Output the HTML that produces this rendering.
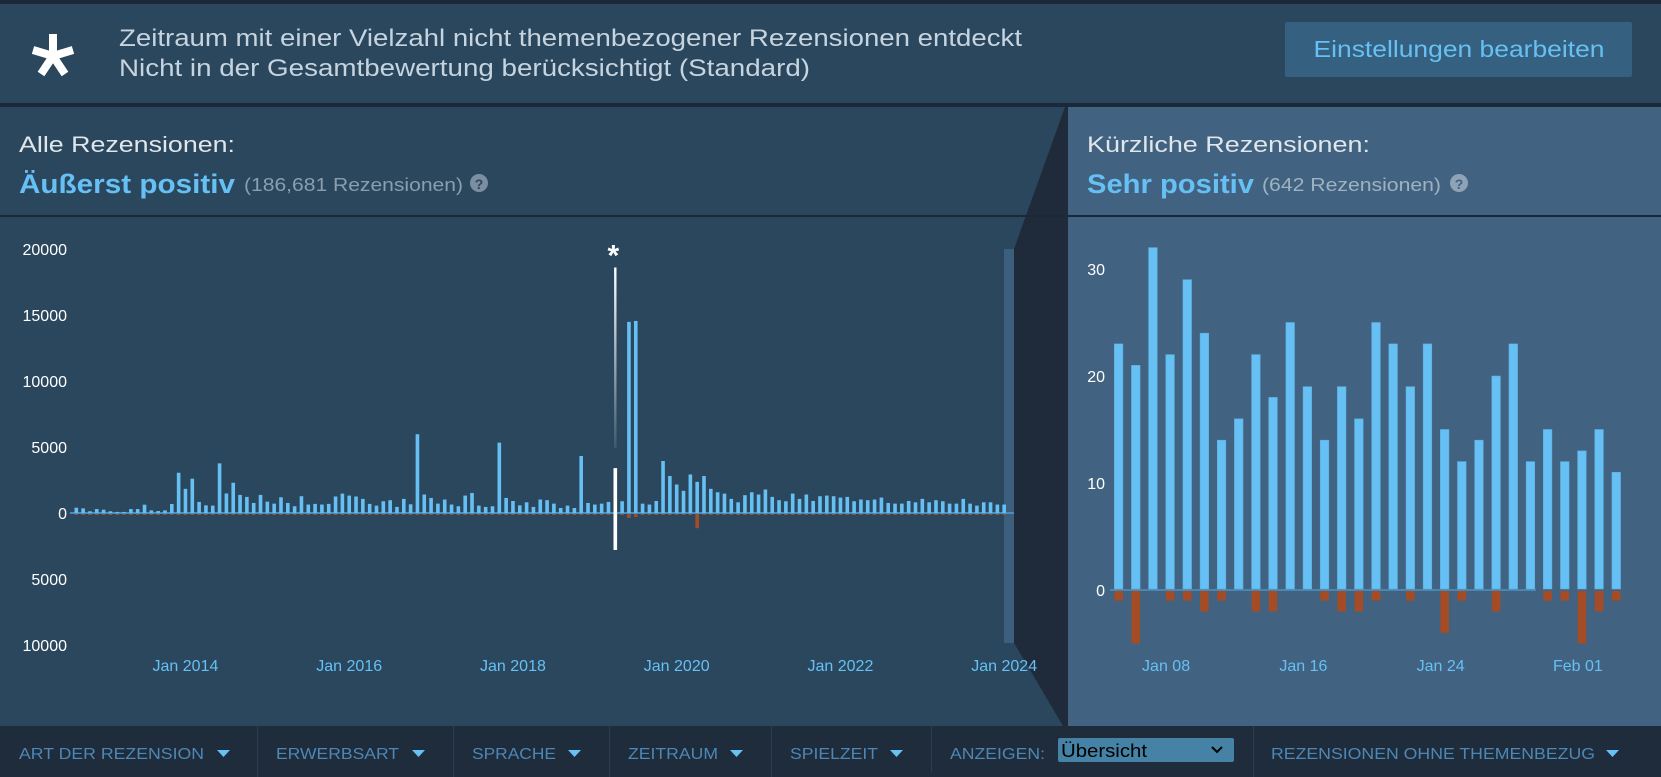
<!DOCTYPE html>
<html><head><meta charset="utf-8">
<style>
html,body{margin:0;padding:0;background:#1b2838;width:1661px;height:777px;overflow:hidden}
svg{display:block;font-family:"Liberation Sans",sans-serif}
</style></head>
<body>
<svg id="page" width="1661" height="777" viewBox="0 0 1661 777" xmlns="http://www.w3.org/2000/svg">
  <!-- header -->
  <rect x="0" y="0" width="1661" height="4" fill="#1b2838"/>
  <rect x="0" y="4" width="1661" height="99" fill="#2a475e"/>
  <g stroke="#ffffff" stroke-width="8" stroke-linecap="butt">
    <line x1="53" y1="56" x2="53" y2="34"/>
    <line x1="53" y1="56" x2="33" y2="50"/>
    <line x1="53" y1="56" x2="73" y2="50"/>
    <line x1="53" y1="56" x2="41" y2="74"/>
    <line x1="53" y1="56" x2="65" y2="74"/>
  </g>
  <text x="119" y="46" font-size="24" fill="#c6d4df" textLength="903" lengthAdjust="spacingAndGlyphs">Zeitraum mit einer Vielzahl nicht themenbezogener Rezensionen entdeckt</text>
  <text x="119" y="76" font-size="24" fill="#c6d4df" textLength="691" lengthAdjust="spacingAndGlyphs">Nicht in der Gesamtbewertung berücksichtigt (Standard)</text>
  <g>
    <rect x="1285" y="22" width="347" height="55" rx="2" fill="#35607f"/>
    <text x="1459" y="57" font-size="23" fill="#66c0f4" text-anchor="middle" textLength="291" lengthAdjust="spacingAndGlyphs">Einstellungen bearbeiten</text>
  </g>
  <rect x="0" y="103" width="1661" height="4" fill="#1b2838"/>

  <!-- panels -->
  <rect x="0" y="107" width="1068" height="619" fill="#2a475e"/>
  <rect x="1068" y="107" width="593" height="619" fill="#416280"/>
  <polygon points="1065,107 1068,107 1068,726 1063,726 1014,643 1014,249" fill="#1f2b3b"/>
  <rect x="0" y="215" width="1066" height="2" fill="#1b2838"/>
  <rect x="1068" y="215" width="593" height="2" fill="#1b2838"/>

  <text x="19" y="152" font-size="22" fill="#e0e6ea" textLength="216" lengthAdjust="spacingAndGlyphs">Alle Rezensionen:</text>
  <text x="19" y="193" font-size="27" font-weight="bold" fill="#66c0f4" textLength="216" lengthAdjust="spacingAndGlyphs">Äußerst positiv</text>
  <text x="244" y="191" font-size="18" fill="#8a9eae" textLength="219" lengthAdjust="spacingAndGlyphs">(186,681 Rezensionen)</text>
  <g><circle cx="479" cy="183" r="9" fill="#7b8fa0"/><text x="479" y="189" font-size="14" font-weight="bold" fill="#2a475e" text-anchor="middle">?</text></g>

  <text x="1087" y="152" font-size="22" fill="#e0e6ea" textLength="283" lengthAdjust="spacingAndGlyphs">Kürzliche Rezensionen:</text>
  <text x="1087" y="193" font-size="27" font-weight="bold" fill="#66c0f4" textLength="167" lengthAdjust="spacingAndGlyphs">Sehr positiv</text>
  <text x="1262" y="191" font-size="18" fill="#9fb2c2" textLength="179" lengthAdjust="spacingAndGlyphs">(642 Rezensionen)</text>
  <g><circle cx="1459" cy="183" r="9" fill="#8ea3b5"/><text x="1459" y="189" font-size="14" font-weight="bold" fill="#416280" text-anchor="middle">?</text></g>

  <rect x="1004" y="249" width="10" height="394" fill="#3b5f7d"/>

  <g id="leftChart"></g>
  <g id="rightChart"></g>

  <!-- filter bar -->
  <rect x="0" y="726" width="1661" height="51" fill="#1f2c3c"/>
  <g fill="#2a3d52">
    <rect x="257" y="726" width="1" height="51"/><rect x="453" y="726" width="1" height="51"/>
    <rect x="609" y="726" width="1" height="51"/><rect x="771" y="726" width="1" height="51"/>
    <rect x="931" y="726" width="1" height="46"/><rect x="1253" y="726" width="1" height="51"/>
  </g>
  <g font-size="16" fill="#4d87b5">
    <g><text x="19" y="759" textLength="185" lengthAdjust="spacingAndGlyphs">ART DER REZENSION</text><polygon points="217,750 230,750 223.5,757" fill="#67c1f5"/></g>
    <g><text x="276" y="759" textLength="123" lengthAdjust="spacingAndGlyphs">ERWERBSART</text><polygon points="412,750 425,750 418.5,757" fill="#67c1f5"/></g>
    <g><text x="472" y="759" textLength="84" lengthAdjust="spacingAndGlyphs">SPRACHE</text><polygon points="568,750 581,750 574.5,757" fill="#67c1f5"/></g>
    <g><text x="628" y="759" textLength="90" lengthAdjust="spacingAndGlyphs">ZEITRAUM</text><polygon points="730,750 743,750 736.5,757" fill="#67c1f5"/></g>
    <g><text x="790" y="759" textLength="88" lengthAdjust="spacingAndGlyphs">SPIELZEIT</text><polygon points="890,750 903,750 896.5,757" fill="#67c1f5"/></g>
    <text x="950" y="759" textLength="95" lengthAdjust="spacingAndGlyphs">ANZEIGEN:</text>
    <g><rect x="1058" y="738" width="176" height="24" rx="2" fill="#4582a5"/><text x="1061" y="757" font-size="18" fill="#000" textLength="86" lengthAdjust="spacingAndGlyphs">Übersicht</text><polyline points="1212,747 1217,752 1222,747" fill="none" stroke="#000" stroke-width="2"/></g>
    <g><text x="1271" y="759" textLength="324" lengthAdjust="spacingAndGlyphs">REZENSIONEN OHNE THEMENBEZUG</text><polygon points="1606,750 1619,750 1612.5,757" fill="#67c1f5"/></g>
  </g>
</svg>
<script>
// ---- all reviews (monthly) data ----
const monthStartYear = 2012, monthStartMonth = 9; // Sep 2012
const allPositive = [400,350,130,300,250,130,80,80,300,300,630,200,150,200,680,3050,1830,2600,840,580,
560,3760,1480,2290,1370,1220,760,1370,860,710,1190,760,510,1270,640,690,640,690,1250,1470,
1320,1250,1070,690,560,890,970,460,1070,660,5970,1400,1140,710,1020,640,510,1320,1520,560,
460,510,5330,1140,910,580,810,460,1020,970,710,
380,560,380,4320,760,640,710,840,0,890,14480,14550,710,640,910,3940,2800,2160,1680,
2920,2360,2800,1830,1570,1470,1070,810,1350,1570,1400,1780,1220,970,890,1470,1070,1400,910,1270,
1320,1270,1170,1220,890,1020,970,1020,1170,760,710,710,910,810,1070,810,970,890,710,710,
1070,710,560,810,810,640,640];
const allNegative = [10,10,5,10,10,5,5,5,10,10,20,10,5,10,20,60,40,50,30,20,
20,70,40,50,40,30,20,40,30,20,30,20,20,30,20,20,20,20,30,40,
30,30,30,20,20,20,30,10,30,20,90,40,30,20,30,20,20,30,40,20,
20,20,80,30,30,20,20,20,30,30,20,
20,20,20,60,30,30,30,40,0,40,380,300,60,60,60,120,90,80,60,
90,1150,90,60,60,50,40,30,40,50,40,50,40,30,30,40,30,40,30,40,
40,40,30,40,30,30,30,30,30,20,20,20,30,20,30,20,30,30,20,20,
30,20,20,20,20,20,20];
const offTopicIndex = [79];
const offTopicTotal = [18600];
const offTopicPositive = [3400];
const offTopicNegative = [2800];
const leftTickValues = [20000,15000,10000,5000,0,-5000,-10000];
const leftTickLabels = ["20000","15000","10000","5000","0","5000","10000"];
const leftXLabelIndex = [16,40,64,88,112,136];
const leftXLabels = ["Jan 2014","Jan 2016","Jan 2018","Jan 2020","Jan 2022","Jan 2024"];

// ---- recent reviews (daily) data ----
const recentPositive = [23,21,32,22,29,24,14,16,22,18,25,19,14,19,16,25,23,19,23,15,12,14,20,23,12,15,12,13,15,11];
const recentNegative = [1,5,0,1,1,2,1,0,2,2,0,0,1,2,2,1,0,1,0,4,1,0,2,0,0,1,1,5,2,1];
const rightTickValues = [30,20,10,0];
const rightTickLabels = ["30","20","10","0"];
const rightXLabelIndex = [3,11,19,27];
const rightXLabels = ["Jan 08","Jan 16","Jan 24","Feb 01"];

const NS = "http://www.w3.org/2000/svg";
function mk(tag, attrs, parent){const e=document.createElementNS(NS,tag);for(const k in attrs)e.setAttribute(k,attrs[k]);parent.appendChild(e);return e;}

// left axes
const L = document.getElementById('leftChart');
const lx0 = 76.3, lx1 = 1004.2;
const lStep = (lx1-lx0)/(allPositive.length-1);
const lxs = i => lx0 + i*lStep;
const lys = v => 513 - v/5000*66;
leftTickValues.forEach((v,i)=>{
  const t = mk('text',{x:67,y:lys(v)+6,'font-size':16,fill:'#ffffff','text-anchor':'end'},L);
  
  
  t.textContent = leftTickLabels[i];
});
leftXLabelIndex.forEach((idx,i)=>{
  const t = mk('text',{x:lxs(idx),y:671,'font-size':16,fill:'#66c0f4','text-anchor':'middle'},L);
  
  
  t.textContent = leftXLabels[i];
});
const lbase = mk('rect',{x:70,y:512,width:944,height:2,fill:'#4a8dbb'},L);


allPositive.forEach((v,i)=>{
  if(v>0){
    const r = mk('rect',{x:lxs(i)-1.8,y:lys(v),width:3.6,height:513-lys(v),fill:'#66c0f4'},L);
    
    
  }
  const n = allNegative[i];
  if(n>0){
    const r = mk('rect',{x:lxs(i)-1.8,y:514,width:3.6,height:Math.max(1,lys(-n)-514),fill:'#a34c25'},L);
    
    
  }
});
const defs = mk('defs',{},L);
const g = mk('linearGradient',{id:'fade',x1:0,y1:0,x2:0,y2:1},defs);
mk('stop',{offset:0,'stop-color':'#ffffff','stop-opacity':1},g);
mk('stop',{offset:1,'stop-color':'#ffffff','stop-opacity':0.1},g);
offTopicIndex.forEach((idx,i)=>{
  const x = lxs(idx);
  const f = mk('rect',{x:x-1.2,y:lys(offTopicTotal[i]),width:2.4,height:lys(offTopicPositive[i])-lys(offTopicTotal[i])-20,fill:'url(#fade)'},L);
  
  
  const p = mk('rect',{x:x-1.8,y:lys(offTopicPositive[i]),width:3.6,height:lys(-offTopicNegative[i])-lys(offTopicPositive[i]),fill:'#ffffff'},L);
  
  
  const a = mk('text',{x:x-2,y:lys(offTopicTotal[i])-2,'font-size':30,'font-weight':'bold',fill:'#ffffff','text-anchor':'middle'},L);
  
  
  a.textContent='*';
});

// right chart
const R = document.getElementById('rightChart');
const rxs = i => 1118.6 + i*17.16;
const rys = v => 590 - v*10.7;
rightTickValues.forEach((v,i)=>{
  const t = mk('text',{x:1105,y:rys(v)+6,'font-size':16,fill:'#ffffff','text-anchor':'end'},R);
  
  
  t.textContent = rightTickLabels[i];
});
rightXLabelIndex.forEach((idx,i)=>{
  const t = mk('text',{x:rxs(idx)-4,y:671,'font-size':16,fill:'#66c0f4','text-anchor':'middle'},R);
  
  
  t.textContent = rightXLabels[i];
});
const rbase = mk('rect',{x:1110,y:589,width:426,height:2,fill:'#4a86b0'},R);


recentPositive.forEach((v,i)=>{
  const r = mk('rect',{x:rxs(i)-4.3,y:rys(v),width:8.6,height:589-rys(v),fill:'#66c0f4',stroke:'#5aaee0','stroke-width':0.6},R);
  
  
  const n = recentNegative[i];
  if(n>0){
    const b = mk('rect',{x:rxs(i)-4.3,y:591,width:8.6,height:rys(-n)-591,fill:'#a34c25'},R);
    
    
  }
});
</script>
</body></html>
